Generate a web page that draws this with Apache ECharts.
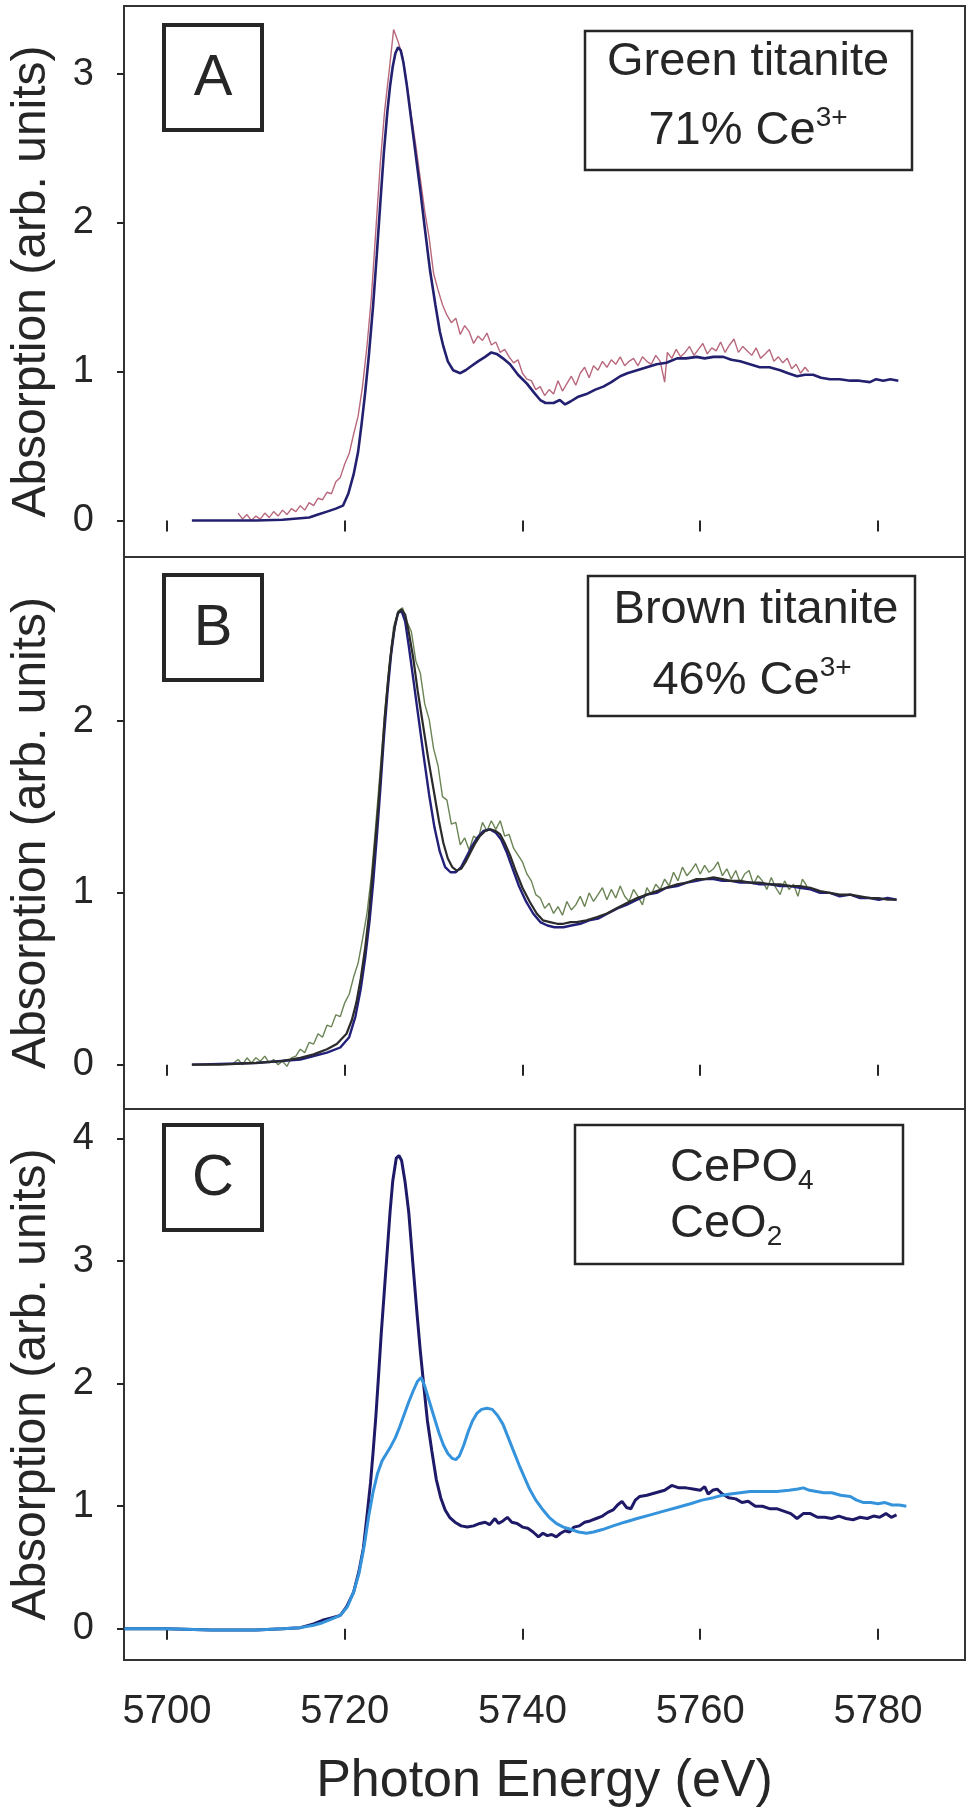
<!DOCTYPE html>
<html>
<head>
<meta charset="utf-8">
<script src="https://cdn.jsdelivr.net/npm/echarts@6/dist/echarts.min.js"></script>
<style>
  html, body { margin: 0; padding: 0; background: #fff; }
  #chart { width: 968px; height: 1809px; }
</style>
</head>
<body>
<div id="chart"></div>
<script>
// energy axis (eV)
const xTicks = [5700, 5720, 5740, 5760, 5780];
const yTicksA = [0, 1, 2, 3];
const yTicksB = [0, 1, 2];
const yTicksC = [0, 1, 2, 3, 4];

// panel A - green titanite: reference spectrum and measured data
const refA = [[5702.8,0],[5706,0],[5710,0],[5713,0.005],[5716,0.02],[5717,0.04],[5718,0.06],[5719,0.08],[5719.8,0.1],[5720.4,0.18],[5721,0.31],[5721.5,0.46],[5721.9,0.65],[5722.3,0.86],[5722.7,1.1],[5723.2,1.45],[5723.6,1.78],[5724,2.13],[5724.4,2.47],[5724.8,2.75],[5725.1,2.92],[5725.4,3.05],[5725.7,3.14],[5726,3.18],[5726.3,3.16],[5726.6,3.08],[5727,2.92],[5727.3,2.78],[5727.9,2.5],[5728.5,2.22],[5729,1.97],[5729.6,1.68],[5730.2,1.45],[5730.7,1.27],[5731.1,1.17],[5731.6,1.07],[5732.2,1.01],[5733,0.99],[5733.6,1.01],[5734.3,1.04],[5735,1.07],[5735.8,1.1],[5736.5,1.13],[5737.1,1.12],[5737.8,1.09],[5738.6,1.05],[5739.5,0.98],[5740.5,0.92],[5741.3,0.86],[5742,0.81],[5742.6,0.79],[5743.5,0.79],[5744.2,0.81],[5744.8,0.78],[5745.4,0.8],[5746.2,0.83],[5747.2,0.85],[5748.2,0.88],[5749.1,0.9],[5750,0.93],[5751,0.97],[5751.8,0.99],[5752.9,1.01],[5754,1.03],[5755.1,1.05],[5756.2,1.06],[5757.4,1.09],[5758.4,1.09],[5759.6,1.1],[5760.5,1.09],[5761.5,1.1],[5762.6,1.1],[5763.5,1.08],[5764.5,1.07],[5765.6,1.05],[5766.7,1.03],[5767.8,1.03],[5769,1.01],[5769.9,0.99],[5770.9,0.97],[5771.8,0.98],[5772.7,0.98],[5773.6,0.96],[5774.6,0.95],[5775.7,0.95],[5776.9,0.94],[5777.9,0.94],[5779.1,0.93],[5779.8,0.95],[5780.6,0.94],[5781.4,0.95],[5782.3,0.94]];
const expA = [[5708.0,0.05],[5708.5,0.01],[5709.0,0.04],[5709.5,0.00],[5710.0,0.03],[5710.5,0.01],[5711.0,0.05],[5711.5,0.02],[5712.0,0.06],[5712.5,0.03],[5713.0,0.07],[5713.5,0.04],[5714.0,0.08],[5714.5,0.06],[5715.0,0.10],[5715.5,0.07],[5716.0,0.12],[5716.5,0.10],[5717.0,0.15],[5717.5,0.14],[5718.0,0.19],[5718.5,0.18],[5719.0,0.26],[5719.5,0.29],[5720.0,0.38],[5720.5,0.45],[5721.0,0.58],[5721.5,0.70],[5722.0,0.90],[5722.5,1.17],[5723.0,1.50],[5723.5,1.95],[5724.0,2.40],[5724.5,2.76],[5725.0,3.02],[5725.5,3.30],[5726.0,3.22],[5726.5,3.12],[5727.0,2.93],[5727.5,2.72],[5728.0,2.52],[5728.5,2.30],[5729.0,2.08],[5729.5,1.90],[5730.0,1.66],[5730.5,1.55],[5731.0,1.45],[5731.5,1.38],[5732.0,1.33],[5732.5,1.36],[5733.0,1.25],[5733.5,1.31],[5734.0,1.27],[5734.5,1.19],[5735.0,1.24],[5735.5,1.21],[5736.0,1.26],[5736.5,1.18],[5737.0,1.20],[5737.5,1.13],[5738.0,1.15],[5738.5,1.10],[5739.0,1.06],[5739.5,1.08],[5740.0,0.99],[5740.5,0.95],[5741.0,0.94],[5741.5,0.88],[5742.0,0.90],[5742.5,0.84],[5743.0,0.88],[5743.5,0.85],[5744.0,0.94],[5744.5,0.87],[5745.0,0.92],[5745.5,0.97],[5746.0,0.91],[5746.5,0.99],[5747.0,1.03],[5747.5,0.96],[5748.0,1.04],[5748.5,1.01],[5749.0,1.07],[5749.5,1.03],[5750.0,1.08],[5750.5,1.05],[5751.0,1.10],[5751.5,1.04],[5752.0,1.07],[5752.5,1.09],[5753.0,1.04],[5753.5,1.10],[5754.0,1.07],[5754.5,1.05],[5755.0,1.11],[5755.5,1.07],[5756.0,0.93],[5756.3,1.13],[5756.8,1.09],[5757.3,1.15],[5757.8,1.10],[5758.3,1.13],[5758.8,1.17],[5759.3,1.11],[5759.8,1.15],[5760.3,1.19],[5760.8,1.12],[5761.3,1.16],[5761.8,1.14],[5762.3,1.20],[5762.8,1.13],[5763.3,1.18],[5763.8,1.22],[5764.3,1.13],[5764.8,1.17],[5765.3,1.14],[5765.8,1.11],[5766.3,1.16],[5766.8,1.09],[5767.3,1.12],[5767.8,1.15],[5768.3,1.07],[5768.8,1.10],[5769.3,1.06],[5769.8,1.09],[5770.3,1.02],[5770.8,1.05],[5771.3,0.99],[5771.8,1.03],[5772.2,1.00]];

// panel B - brown titanite
const refB = [[5702.8,0],[5710,0.01],[5715,0.03],[5718,0.07],[5719.5,0.1],[5720.5,0.16],[5721.2,0.28],[5721.8,0.44],[5722.3,0.62],[5722.8,0.84],[5723.2,1.06],[5723.6,1.32],[5724,1.6],[5724.4,1.9],[5724.8,2.16],[5725.2,2.38],[5725.6,2.54],[5726,2.63],[5726.4,2.64],[5726.8,2.58],[5727.2,2.44],[5727.7,2.25],[5728.3,2.02],[5728.9,1.79],[5729.5,1.57],[5730.1,1.38],[5730.7,1.24],[5731.3,1.15],[5731.9,1.12],[5732.5,1.12],[5733.1,1.15],[5733.7,1.21],[5734.3,1.27],[5734.9,1.32],[5735.6,1.36],[5736.3,1.37],[5737,1.35],[5737.6,1.31],[5738.2,1.24],[5738.9,1.14],[5739.6,1.04],[5740.4,0.95],[5741.2,0.88],[5742,0.83],[5742.8,0.81],[5743.6,0.8],[5744.6,0.8],[5745.5,0.81],[5746.5,0.82],[5747.5,0.84],[5748.5,0.85],[5749.6,0.88],[5750.7,0.91],[5751.7,0.93],[5752.9,0.96],[5754,0.99],[5755.1,1.0],[5756.2,1.03],[5757.4,1.04],[5758.5,1.06],[5759.6,1.07],[5760.5,1.08],[5761.5,1.08],[5762.5,1.07],[5763.4,1.07],[5764.5,1.06],[5765.6,1.06],[5766.7,1.05],[5767.9,1.05],[5769,1.04],[5770.1,1.04],[5771.2,1.03],[5772.4,1.02],[5773.5,1.0],[5774.6,1.0],[5775.7,0.98],[5776.9,0.99],[5778,0.97],[5779.1,0.97],[5780.1,0.96],[5781.1,0.97],[5782.1,0.96]];
const fitB = [[5702.8,0],[5706,0],[5710,0.01],[5712.7,0.02],[5715,0.04],[5716.5,0.06],[5718,0.09],[5719.1,0.12],[5720.2,0.18],[5720.8,0.26],[5721.3,0.36],[5721.8,0.5],[5722.3,0.68],[5722.7,0.86],[5723,1.04],[5723.4,1.28],[5723.8,1.52],[5724.2,1.8],[5724.5,2.02],[5724.9,2.25],[5725.3,2.44],[5725.7,2.57],[5726,2.63],[5726.4,2.65],[5726.8,2.62],[5727.2,2.52],[5727.7,2.37],[5728.2,2.18],[5728.8,1.98],[5729.4,1.78],[5730,1.6],[5730.6,1.42],[5731.1,1.29],[5731.6,1.2],[5732.1,1.15],[5732.6,1.13],[5733.1,1.14],[5733.6,1.18],[5734.1,1.23],[5734.7,1.29],[5735.2,1.33],[5735.8,1.36],[5736.4,1.37],[5737,1.36],[5737.5,1.34],[5738,1.29],[5738.6,1.22],[5739.3,1.12],[5740,1.03],[5740.8,0.95],[5741.6,0.88],[5742.3,0.84],[5743.1,0.83],[5743.9,0.82],[5744.6,0.82],[5745.4,0.83],[5746.1,0.83],[5747.2,0.84],[5748.4,0.86],[5749.5,0.88],[5750.6,0.91],[5751.7,0.94],[5752.9,0.97],[5754,0.99],[5755.1,1.01],[5756.2,1.03],[5757.4,1.05],[5758.5,1.06],[5759.6,1.08],[5760.5,1.08],[5761.5,1.09],[5762.5,1.08],[5763.4,1.07],[5764.5,1.07],[5765.6,1.06],[5766.7,1.06],[5767.9,1.05],[5769,1.05],[5770.1,1.04],[5771.2,1.04],[5772.4,1.03],[5773.5,1.01],[5774.6,1.0],[5775.7,0.99],[5776.9,0.99],[5778,0.98],[5779.1,0.97],[5780.1,0.97],[5781.1,0.96],[5782.1,0.96]];
const expB = [[5707.5,0.01],[5708.0,0.03],[5708.5,0.00],[5709.0,0.04],[5709.5,0.01],[5710.0,0.04],[5710.5,0.02],[5711.0,0.05],[5711.5,0.01],[5712.0,0.03],[5712.5,0.00],[5713.0,0.02],[5713.5,-0.01],[5714.0,0.04],[5714.5,0.05],[5715.0,0.09],[5715.5,0.07],[5716.0,0.13],[5716.5,0.12],[5717.0,0.18],[5717.5,0.16],[5718.0,0.23],[5718.5,0.22],[5719.0,0.29],[5719.5,0.28],[5720.0,0.36],[5720.5,0.41],[5721.0,0.51],[5721.5,0.59],[5722.0,0.73],[5722.5,0.88],[5723.0,1.10],[5723.5,1.40],[5724.0,1.72],[5724.5,2.05],[5725.0,2.33],[5725.5,2.55],[5726.0,2.64],[5726.5,2.66],[5727.0,2.58],[5727.5,2.52],[5728.0,2.35],[5728.5,2.28],[5729.0,2.10],[5729.5,2.01],[5730.0,1.84],[5730.5,1.74],[5731.0,1.56],[5731.5,1.54],[5732.0,1.40],[5732.5,1.41],[5733.0,1.28],[5733.5,1.32],[5734.0,1.25],[5734.5,1.33],[5735.0,1.31],[5735.5,1.41],[5736.0,1.36],[5736.5,1.42],[5737.0,1.37],[5737.5,1.42],[5738.0,1.33],[5738.5,1.34],[5739.0,1.26],[5739.5,1.22],[5740.0,1.18],[5740.5,1.11],[5741.0,1.07],[5741.5,0.99],[5742.0,0.97],[5742.5,0.91],[5743.0,0.94],[5743.5,0.88],[5744.0,0.92],[5744.5,0.87],[5745.0,0.95],[5745.5,0.90],[5746.0,0.93],[5746.5,0.98],[5747.0,0.92],[5747.5,1.00],[5748.0,0.95],[5748.5,0.99],[5749.0,1.03],[5749.5,0.96],[5750.0,1.02],[5750.5,0.97],[5751.0,1.04],[5751.5,0.98],[5752.0,0.95],[5752.5,1.02],[5753.0,0.98],[5753.5,0.93],[5754.0,1.03],[5754.5,0.99],[5755.0,1.05],[5755.5,1.02],[5756.0,1.08],[5756.5,1.04],[5757.0,1.12],[5757.5,1.07],[5758.0,1.15],[5758.5,1.10],[5759.0,1.13],[5759.5,1.17],[5760.0,1.11],[5760.5,1.16],[5761.0,1.12],[5761.5,1.14],[5762.0,1.18],[5762.5,1.10],[5763.0,1.14],[5763.5,1.08],[5764.0,1.13],[5764.5,1.06],[5765.0,1.11],[5765.5,1.13],[5766.0,1.05],[5766.5,1.10],[5767.0,1.07],[5767.5,1.02],[5768.0,1.09],[5768.5,1.03],[5769.0,0.99],[5769.5,1.07],[5770.0,1.02],[5770.5,1.05],[5771.0,0.98],[5771.5,1.08],[5772.0,1.04]];

// panel C - standards
const cePO4 = [[5695.2,0.0],[5700,0.0],[5705,-0.01],[5710,-0.01],[5713,0.0],[5715,0.01],[5716.5,0.04],[5717.5,0.07],[5718.5,0.09],[5719.5,0.11],[5720.2,0.18],[5721,0.3],[5721.6,0.47],[5722.1,0.66],[5722.5,0.92],[5722.9,1.19],[5723.2,1.45],[5723.5,1.73],[5723.8,2.06],[5724.1,2.4],[5724.5,2.8],[5724.8,3.1],[5725.1,3.4],[5725.4,3.65],[5725.8,3.84],[5726.1,3.86],[5726.4,3.82],[5726.8,3.64],[5727.2,3.4],[5727.7,2.95],[5728.1,2.6],[5728.5,2.27],[5728.9,1.98],[5729.3,1.7],[5729.8,1.45],[5730.3,1.22],[5730.8,1.07],[5731.3,0.97],[5731.8,0.91],[5732.4,0.87],[5733.1,0.84],[5733.8,0.83],[5734.5,0.84],[5735.2,0.86],[5735.8,0.87],[5736.3,0.85],[5736.9,0.9],[5737.3,0.86],[5737.8,0.88],[5738.3,0.91],[5738.8,0.87],[5739.4,0.86],[5740,0.83],[5740.6,0.82],[5741.2,0.79],[5741.8,0.75],[5742.3,0.78],[5742.8,0.76],[5743.3,0.77],[5743.8,0.75],[5744.3,0.78],[5744.8,0.8],[5745.3,0.79],[5745.8,0.83],[5746.4,0.84],[5747,0.87],[5747.6,0.88],[5748.3,0.9],[5749,0.92],[5749.6,0.95],[5750.2,0.97],[5750.7,1.01],[5751.2,1.04],[5751.7,0.99],[5752.2,0.98],[5752.7,1.05],[5753.2,1.08],[5754,1.09],[5755,1.11],[5756,1.13],[5756.8,1.17],[5757.6,1.15],[5758.4,1.15],[5759.2,1.14],[5760,1.13],[5760.5,1.16],[5760.9,1.1],[5761.4,1.13],[5761.9,1.14],[5762.5,1.1],[5763.2,1.07],[5764,1.06],[5764.7,1.03],[5765.4,1.04],[5766.2,1.0],[5767,1.0],[5767.8,0.98],[5768.6,0.98],[5769.4,0.96],[5770.2,0.94],[5770.9,0.9],[5771.6,0.94],[5772.4,0.94],[5773.2,0.91],[5774,0.91],[5774.8,0.9],[5775.6,0.92],[5776.4,0.9],[5777.2,0.89],[5778,0.91],[5778.8,0.9],[5779.5,0.92],[5780.2,0.91],[5780.9,0.94],[5781.5,0.91],[5782.1,0.93]];
const ceO2 = [[5695.2,0.0],[5700,0.0],[5705,-0.01],[5710,-0.01],[5713,0.0],[5715,0.01],[5716.5,0.03],[5717.5,0.05],[5718.5,0.08],[5719.5,0.11],[5720.3,0.18],[5721,0.3],[5721.6,0.45],[5722.2,0.68],[5722.7,0.92],[5723.2,1.12],[5723.7,1.27],[5724.2,1.37],[5724.7,1.43],[5725.2,1.49],[5725.7,1.56],[5726.2,1.65],[5726.7,1.75],[5727.2,1.85],[5727.7,1.94],[5728.2,2.02],[5728.6,2.05],[5729.0,1.98],[5729.5,1.86],[5730.0,1.74],[5730.6,1.6],[5731.1,1.5],[5731.6,1.43],[5732.1,1.39],[5732.5,1.38],[5732.9,1.41],[5733.4,1.5],[5733.9,1.61],[5734.4,1.7],[5734.9,1.76],[5735.4,1.79],[5736.0,1.8],[5736.6,1.79],[5737.2,1.74],[5737.8,1.67],[5738.4,1.56],[5739.0,1.45],[5739.6,1.34],[5740.2,1.24],[5740.8,1.14],[5741.5,1.05],[5742.2,0.98],[5743.0,0.91],[5743.8,0.86],[5744.6,0.83],[5745.5,0.81],[5746.3,0.79],[5747.2,0.78],[5748.0,0.79],[5749.0,0.81],[5750.2,0.84],[5751.5,0.87],[5752.9,0.9],[5754.4,0.93],[5755.9,0.96],[5757.4,0.99],[5758.9,1.02],[5760.2,1.05],[5761.5,1.07],[5762.5,1.09],[5763.4,1.1],[5764.5,1.11],[5765.6,1.12],[5767.0,1.12],[5768.6,1.12],[5770.0,1.13],[5771.0,1.14],[5771.6,1.15],[5772.3,1.13],[5773.1,1.12],[5773.9,1.11],[5774.8,1.11],[5775.8,1.09],[5776.9,1.08],[5777.6,1.05],[5778.4,1.03],[5779.2,1.03],[5780.0,1.02],[5780.8,1.03],[5781.6,1.01],[5782.4,1.01],[5783.2,1.0]];

const FONT = "'Liberation Sans', Arial, Helvetica, sans-serif";
const INK = "#262626";

const chart = echarts.init(document.getElementById("chart"), null, { renderer: "canvas" });

function xAxisFor(gridIndex, withLabels) {
  return {
    type: "value",
    gridIndex: gridIndex,
    min: 5695.16,
    max: 5789.8,
    axisLine: { show: false },
    splitLine: { show: false },
    axisTick: {
      show: true,
      inside: false,
      length: 11,
      customValues: xTicks,
      lineStyle: { color: INK, width: 2 },
    },
    axisLabel: {
      show: withLabels,
      customValues: xTicks,
      formatter: (v) => String(v),
      margin: 32,
      fontSize: 40,
      fontFamily: FONT,
      color: INK,
    },
    name: withLabels ? "Photon Energy (eV)" : "",
    nameLocation: "middle",
    nameGap: 96,
    nameTextStyle: { fontSize: 52, fontFamily: FONT, color: INK },
  };
}

function yAxisFor(gridIndex, min, max, ticks) {
  return {
    type: "value",
    gridIndex: gridIndex,
    min: min,
    max: max,
    axisLine: { show: false },
    splitLine: { show: false },
    axisTick: {
      show: true,
      inside: false,
      length: 7,
      customValues: ticks,
      lineStyle: { color: INK, width: 2 },
    },
    axisLabel: {
      customValues: ticks,
      margin: 30,
      fontSize: 38,
      fontFamily: FONT,
      color: INK,
    },
    name: "Absorption (arb. units)",
    nameLocation: "middle",
    nameRotate: 90,
    nameGap: 68,
    nameTextStyle: { fontSize: 48, fontFamily: FONT, color: INK },
  };
}

function line(data, color, width, axis, z) {
  return {
    type: "line",
    data: data,
    xAxisIndex: axis,
    yAxisIndex: axis,
    showSymbol: false,
    symbol: "none",
    smooth: false,
    z: z,
    lineStyle: { color: color, width: width },
  };
}

// panel letter boxes and sample boxes
function letterBox(label, top) {
  return [
    { type: "rect", shape: { x: 164, y: top, width: 98, height: 105 }, style: { fill: "#fff", stroke: INK, lineWidth: 4 }, z: 100 },
    { type: "text", x: 213, y: top + 54, style: { text: label, font: "58px " + FONT, fill: INK, align: "center", verticalAlign: "middle" }, z: 101 },
  ];
}

function sampleBox(x, y, w, h) {
  return { type: "rect", shape: { x: x, y: y, width: w, height: h }, style: { fill: "#fff", stroke: INK, lineWidth: 2.5 }, z: 100 };
}

function richLabel(text, x, y, align) {
  return {
    type: "text",
    x: x,
    y: y,
    z: 101,
    style: {
      text: text,
      align: align || "center",
      verticalAlign: "middle",
      fill: INK,
      rich: {
        n: { fontSize: 47, fontFamily: FONT, color: INK, lineHeight: 54 },
        sup: { fontSize: 28, fontFamily: FONT, color: INK, lineHeight: 30, verticalAlign: "top" },
        sub: { fontSize: 28, fontFamily: FONT, color: INK, lineHeight: 26, verticalAlign: "bottom" },
      },
    },
  };
}

chart.setOption({
  animation: false,
  backgroundColor: "#fff",
  grid: [
    { left: 124, right: 3, top: 6, height: 551, show: true, borderColor: "#333", borderWidth: 2, containLabel: false },
    { left: 124, right: 3, top: 557, height: 552, show: true, borderColor: "#333", borderWidth: 2, containLabel: false },
    { left: 124, right: 3, top: 1109, height: 555, show: true, borderColor: "#333", borderWidth: 2, containLabel: false },
  ],
  xAxis: [xAxisFor(0, false), xAxisFor(1, false), xAxisFor(2, true)],
  yAxis: [
    yAxisFor(0, -0.245, 3.458, yTicksA),
    yAxisFor(1, -0.258, 2.955, yTicksB),
    yAxisFor(2, -0.254, 4.24, yTicksC),
  ],
  series: [
    line(expA, "#b8687c", 1.4, 0, 2),
    line(refA, "#22206f", 2.6, 0, 3),
    line(expB, "#6b8455", 1.4, 1, 2),
    line(refB, "#23207a", 2.4, 1, 3),
    line(fitB, "#2b2b2b", 2.2, 1, 4),
    line(cePO4, "#1f1a68", 3, 2, 3),
    line(ceO2, "#3593dc", 3, 2, 4),
  ],
  graphic: [
    ...letterBox("A", 25),
    ...letterBox("B", 575),
    ...letterBox("C", 1125),
    sampleBox(585, 31, 327, 139),
    richLabel("{n|Green titanite}", 748, 62),
    richLabel("{n|71% Ce}{sup|3+}", 748, 131),
    sampleBox(588, 576, 327, 140),
    richLabel("{n|Brown titanite}", 756, 610),
    richLabel("{n|46% Ce}{sup|3+}", 752, 681),
    sampleBox(575, 1125, 328, 139),
    richLabel("{n|CePO}{sub|4}", 670, 1168, "left"),
    richLabel("{n|CeO}{sub|2}", 670, 1224, "left"),
  ],
});
</script>
</body>
</html>
